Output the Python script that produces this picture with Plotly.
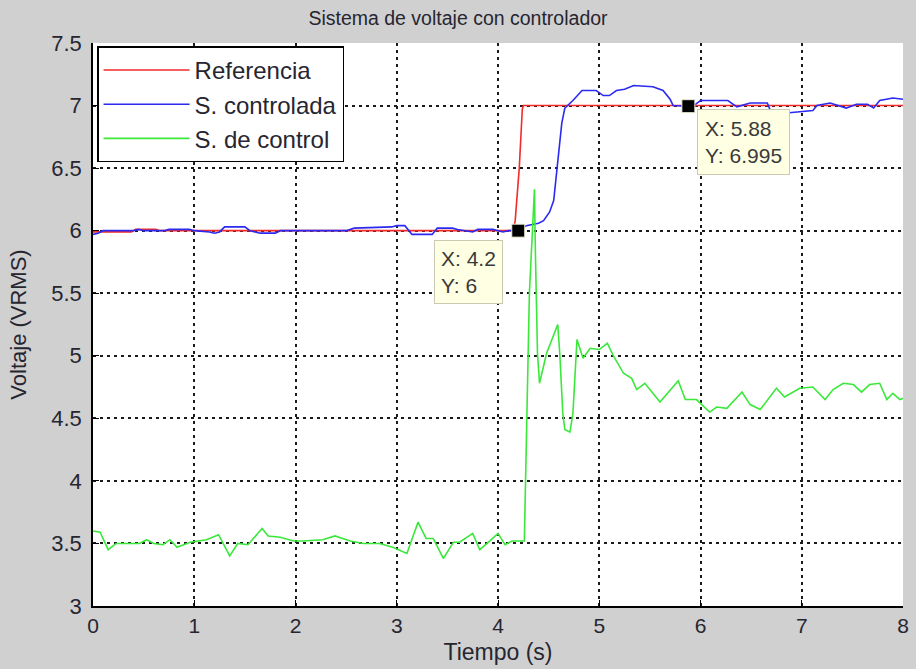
import plotly.graph_objects as go

# ---------------- data ----------------
ref_x = [0.0, 0.38, 0.42, 0.62, 0.66, 1.05, 4.15, 4.17, 4.21, 4.24, 4.25, 8.0]
ref_y = [5.99, 5.99, 6.01, 6.01, 6.0, 6.0, 6.0, 6.08, 6.5, 6.97, 7.0, 7.0]

ctl_x = [0.0, 0.05, 0.1, 0.4, 0.45, 0.5, 0.7, 0.75, 0.95, 1.0, 1.15, 1.2, 1.25, 1.3,
         1.5, 1.55, 1.65, 1.8, 1.85, 2.0, 2.3, 2.5, 2.58, 2.95, 3.0, 3.08, 3.15,
         3.35, 3.4, 3.55, 3.6, 3.7, 3.75, 3.8, 3.95, 4.0, 4.05, 4.1, 4.2, 4.28,
         4.4, 4.45, 4.51, 4.55, 4.57, 4.59, 4.61, 4.63, 4.66, 4.74, 4.83, 4.97,
         5.04, 5.10, 5.17, 5.25, 5.34, 5.53, 5.63, 5.70, 5.73, 5.88, 5.95, 6.0,
         6.27, 6.36, 6.49, 6.66, 6.69, 6.85, 7.11, 7.15, 7.28, 7.35, 7.44, 7.54,
         7.65, 7.71, 7.77, 7.90, 8.0]
ctl_y = [5.97, 5.98, 6.0, 6.0, 6.01, 6.0, 6.0, 6.01, 6.01, 6.0, 5.99, 5.98, 5.99, 6.03,
         6.03, 6.0, 5.98, 5.98, 6.0, 6.0, 6.0, 6.0, 6.02, 6.03, 6.04, 6.04, 5.97,
         5.97, 6.02, 6.02, 6.01, 6.0, 5.99, 6.01, 6.01, 6.0, 5.99, 6.0, 6.0, 6.04,
         6.06, 6.08, 6.15, 6.24, 6.4, 6.51, 6.7, 6.86, 6.98, 7.04, 7.12, 7.12,
         7.08, 7.08, 7.12, 7.13, 7.16, 7.15, 7.12, 7.05, 7.0, 6.995, 7.01, 7.04,
         7.04, 6.99, 7.02, 7.02, 6.96, 6.94, 6.96, 7.0, 7.02, 7.0, 6.98, 7.01,
         7.01, 6.98, 7.04, 7.06, 7.05]

sig_x = [0.0, 0.07, 0.15, 0.23, 0.46, 0.53, 0.6, 0.69, 0.76, 0.83, 0.96, 1.06, 1.12,
         1.24, 1.35, 1.43, 1.53, 1.67, 1.73, 1.85, 1.98, 2.07, 2.27, 2.39, 2.54,
         2.67, 2.83, 2.96, 3.1, 3.21, 3.29, 3.36, 3.46, 3.56, 3.62, 3.75, 3.82,
         3.92, 4.0, 4.07, 4.14, 4.26, 4.27, 4.29, 4.31, 4.34, 4.36, 4.37, 4.39,
         4.41, 4.48, 4.59, 4.61, 4.64, 4.66, 4.71, 4.74, 4.78, 4.84, 4.91, 5.0,
         5.08, 5.14, 5.24, 5.32, 5.37, 5.45, 5.60, 5.78, 5.85, 5.96, 6.09, 6.16,
         6.26, 6.41, 6.49, 6.59, 6.75, 6.83, 6.98, 7.11, 7.23, 7.31, 7.41, 7.51,
         7.59, 7.67, 7.77, 7.84, 7.90, 7.97, 8.0]
sig_y = [3.60, 3.59, 3.45, 3.5, 3.5, 3.53, 3.5, 3.49, 3.53, 3.47, 3.51, 3.52, 3.53,
         3.57, 3.40, 3.5, 3.49, 3.62, 3.56, 3.55, 3.52, 3.52, 3.53, 3.56, 3.52,
         3.5, 3.5, 3.47, 3.42, 3.67, 3.54, 3.54, 3.38, 3.51, 3.51, 3.58, 3.45,
         3.52, 3.58, 3.49, 3.52, 3.52, 3.9, 4.8, 5.5, 6.0, 6.33, 5.8, 5.02,
         4.78, 5.02, 5.25, 5.02, 4.54, 4.41, 4.39, 4.54, 5.13, 4.98, 5.06, 5.05,
         5.10, 5.0, 4.86, 4.82, 4.73, 4.78, 4.63, 4.80, 4.65, 4.65, 4.55, 4.59,
         4.58, 4.71, 4.61, 4.57, 4.74, 4.67, 4.74, 4.75, 4.65, 4.73, 4.78, 4.77,
         4.71, 4.77, 4.78, 4.65, 4.70, 4.65, 4.66]

tip_x = [4.2, 5.88]
tip_y = [6.0, 6.995]
tip_labels = ["X: 4.2<br>Y: 6", "X: 5.88<br>Y: 6.995"]

x_ticks = [0, 1, 2, 3, 4, 5, 6, 7, 8]
y_ticks = [3, 3.5, 4, 4.5, 5, 5.5, 6, 6.5, 7, 7.5]
y_tick_text = ["3", "3.5", "4", "4.5", "5", "5.5", "6", "6.5", "7", "7.5"]

# ---------------- figure ----------------
FONT = "Liberation Sans, Arial, sans-serif"
TXT = "#262630"
BG = "#d0d0d0"

fig = go.Figure()
fig.add_trace(go.Scatter(x=ref_x, y=ref_y, mode="lines", name="Referencia",
                         line=dict(color="#f22a2a", width=1.6)))
fig.add_trace(go.Scatter(x=ctl_x, y=ctl_y, mode="lines", name="S. controlada",
                         line=dict(color="#2a2af2", width=1.6)))
fig.add_trace(go.Scatter(x=sig_x, y=sig_y, mode="lines", name="S. de control",
                         line=dict(color="#3ae83a", width=1.6)))
fig.add_trace(go.Scatter(x=tip_x, y=tip_y, mode="markers", showlegend=False,
                         marker=dict(symbol="square", size=13, color="black",
                                     line=dict(color="#f0f0d8", width=1))))

# data tips
fig.add_annotation(x=tip_x[0], y=tip_y[0], text=tip_labels[0], showarrow=False,
                   xanchor="right", yanchor="top", xshift=-15, yshift=-9,
                   align="left", bgcolor="#ffffe3", bordercolor="#c9c9b4",
                   borderwidth=1, borderpad=6,
                   font=dict(family=FONT, size=21, color="#3a3a3a"))
fig.add_annotation(x=tip_x[1], y=tip_y[1], text=tip_labels[1], showarrow=False,
                   xanchor="left", yanchor="top", xshift=9, yshift=-3,
                   align="left", bgcolor="#ffffe3", bordercolor="#c9c9b4",
                   borderwidth=1, borderpad=7,
                   font=dict(family=FONT, size=21, color="#3a3a3a"))

grid = dict(showgrid=True, gridcolor="#1a1a1a", gridwidth=2, griddash="3px,4px")

fig.update_layout(
    width=916, height=669,
    paper_bgcolor=BG, plot_bgcolor="white",
    margin=dict(l=93, r=13, t=43, b=63, autoexpand=False),
    font=dict(family=FONT, color=TXT, size=20),
    title=dict(text="Sistema de voltaje con controlador", x=0.5, xanchor="center",
               y=0.973, yanchor="middle", font=dict(size=19.5, color=TXT)),
    xaxis=dict(range=[0, 8], tickvals=x_ticks, ticks="inside", ticklen=6,
               tickcolor="black", showline=True, linecolor="black", linewidth=1.5,
               zeroline=False, tickfont=dict(size=21), automargin=False,
               title=dict(text="Tiempo (s)", font=dict(size=23), standoff=8), **grid),
    yaxis=dict(range=[3, 7.5], tickvals=y_ticks, ticktext=y_tick_text, ticks="inside",
               ticklen=6, tickcolor="black", showline=True, linecolor="black",
               linewidth=1.5, zeroline=False, tickfont=dict(size=22), automargin=False,
               ticklabelstandoff=5,
               title=dict(text="Voltaje (VRMS)", font=dict(size=22), standoff=19), **grid),
    legend=dict(x=0.005, y=0.994, xanchor="left", yanchor="top",
                bgcolor="white", bordercolor="black", borderwidth=1.5,
                font=dict(size=24, color=TXT), itemwidth=86,
                tracegroupgap=0),
    showlegend=True,
)

fig.write_html("out.html",
               config={"displayModeBar": False},
               post_script="document.body.style.margin='0px';"
                           "document.body.style.background='#d0d0d0';"
                           "document.body.style.overflow='hidden';")
